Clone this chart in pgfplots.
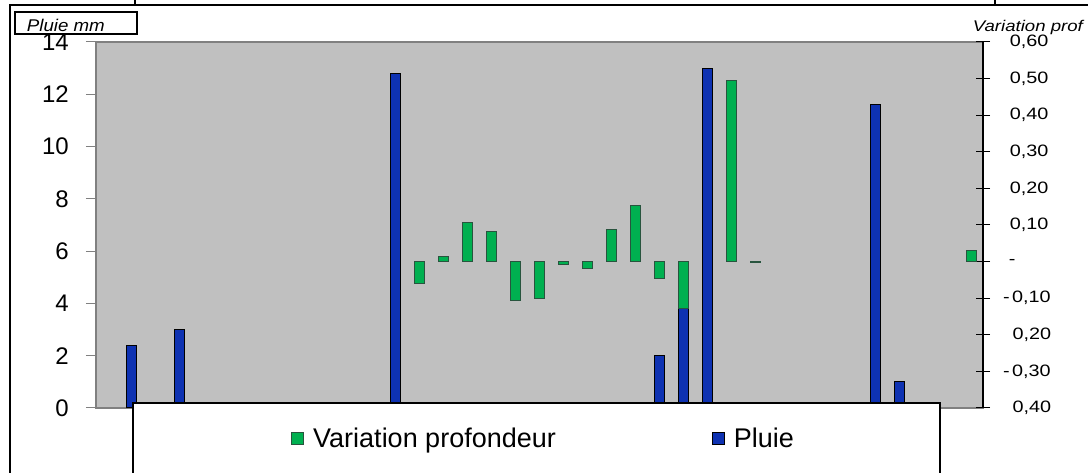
\documentclass[border=0pt]{standalone}
\usepackage{pgfplots}
\pgfplotsset{compat=1.18}
\usepackage{graphicx}
\usepackage{fontspec}
\setmainfont{Liberation Sans}
\definecolor{plotgray}{RGB}{192,192,192}
\definecolor{axgray}{RGB}{128,128,128}
\definecolor{pluieblue}{RGB}{14,50,178}
\definecolor{vargreen}{RGB}{0,176,80}
\definecolor{vardark}{RGB}{40,84,62}
\pgfplotsset{sqlegend/.style={legend image code/.code={\draw[##1] (0pt,-6pt) rectangle (12pt,6pt); \path (19pt,0pt);}}}
\newcommand{\rl}[1]{\scalebox{1.2}[1]{\fontsize{16.5}{16.5}\selectfont #1}}
\begin{document}
\begin{tikzpicture}[x=1pt,y=1pt]
\useasboundingbox (0,0) rectangle (1088,473);
\clip (0,0) rectangle (1088,473);
% outer frame pieces
\draw[line width=1.5pt] (10,-5) -- (10,468) -- (1095,468);
\draw[line width=1.5pt] (135,468) -- (135,480);
\draw[line width=1.5pt] (995,468) -- (995,480);
% primary axis: Pluie
\begin{axis}[
  at={(96pt,65pt)}, anchor=south west,
  scale only axis, width=887pt, height=366pt,
  xmin=-0.5, xmax=36.5, ymin=0, ymax=14,
  axis x line=none, axis y line*=left,
  axis line style={draw=axgray, line width=2pt},
  axis background/.style={fill=plotgray, draw=axgray, line width=2pt},
  ytick={0,2,4,6,8,10,12,14},
  yticklabels={0,2,4,6,8,10,12,14},
  tick align=outside, major tick length=10pt,
  ytick style={draw=axgray, line width=1pt},
  yticklabel style={font=\fontsize{24}{24}\selectfont, anchor=east, inner sep=0pt, xshift=-17pt},
  ybar, bar width=10pt, bar shift=0pt,
]
\addplot[fill=pluieblue, draw=black, line width=1pt] coordinates {
 (1,2.4) (3,3.0) (12,12.8) (23,2.0) (24,3.8) (25,13.0) (32,11.6) (33,1.0)};
\end{axis}
% secondary axis: Variation profondeur
\begin{axis}[
  at={(96pt,65pt)}, anchor=south west,
  scale only axis, width=887pt, height=366pt,
  xmin=-0.5, xmax=36.5, ymin=-0.4, ymax=0.6,
  axis x line=none, axis y line*=right,
  axis line style={draw=black, line width=1.5pt},
  ytick={-0.4,-0.3,-0.2,-0.1,0,0.1,0.2,0.3,0.4,0.5,0.6},
  yticklabels={{\hspace{9.4pt}\rl{0,40}},
               {\rl{-\hspace{2pt}0,30}},
               {\hspace{9.4pt}\rl{0,20}},
               {\rl{-\hspace{2pt}0,10}},
               {\hspace{5.7pt}\rl{-}},
               {\hspace{6.7pt}\rl{0,10}},
               {\hspace{6.7pt}\rl{0,20}},
               {\hspace{6.7pt}\rl{0,30}},
               {\hspace{6.7pt}\rl{0,40}},
               {\hspace{6.7pt}\rl{0,50}},
               {\hspace{6.7pt}\rl{0,60}}},
  tick align=center, major tick length=14pt,
  ytick style={draw=black, line width=1pt},
  yticklabel style={anchor=west, inner sep=0pt, xshift=13pt},
  ybar, bar width=10pt, bar shift=0pt, clip=false,
  sqlegend,
  legend columns=2,
  legend style={draw=none, fill=none, at={(rel axis cs:0.5046,-0.082)}, anchor=center,
    font=\fontsize{27}{27}\selectfont,
    /tikz/every even column/.append style={column sep=154pt}},
]
\addplot[fill=vargreen, draw=vardark, line width=1pt, sqlegend] coordinates {
 (13,-0.06) (14,0.014) (15,0.107) (16,0.081) (17,-0.105) (18,-0.102) (19,-0.009)
 (20,-0.018) (21,0.087) (22,0.153) (23,-0.046) (24,-0.129) (26,0.494) (27,-0.003) (36,0.03)};
\addlegendentry{Variation profondeur}
\addlegendimage{fill=pluieblue, draw=black, line width=1pt, sqlegend}
\addlegendentry{Pluie}
\draw[fill=white, line width=1.5pt] (rel axis cs:0.0417,0.0137) rectangle (rel axis cs:0.9515,-0.3);
\end{axis}
% axis titles
\draw[line width=2pt] (15,438.7) rectangle (136.7,461.3);
\node[anchor=base west, inner sep=0pt, font=\itshape\fontsize{17}{17}\selectfont] at (26.7,441) {\scalebox{1.1}[1]{Pluie mm}};
\node[anchor=base west, inner sep=0pt, font=\itshape\fontsize{15.5}{15.5}\selectfont] at (972.7,441.3) {\scalebox{1.2}[1]{Variation prof}};
\end{tikzpicture}
\end{document}
